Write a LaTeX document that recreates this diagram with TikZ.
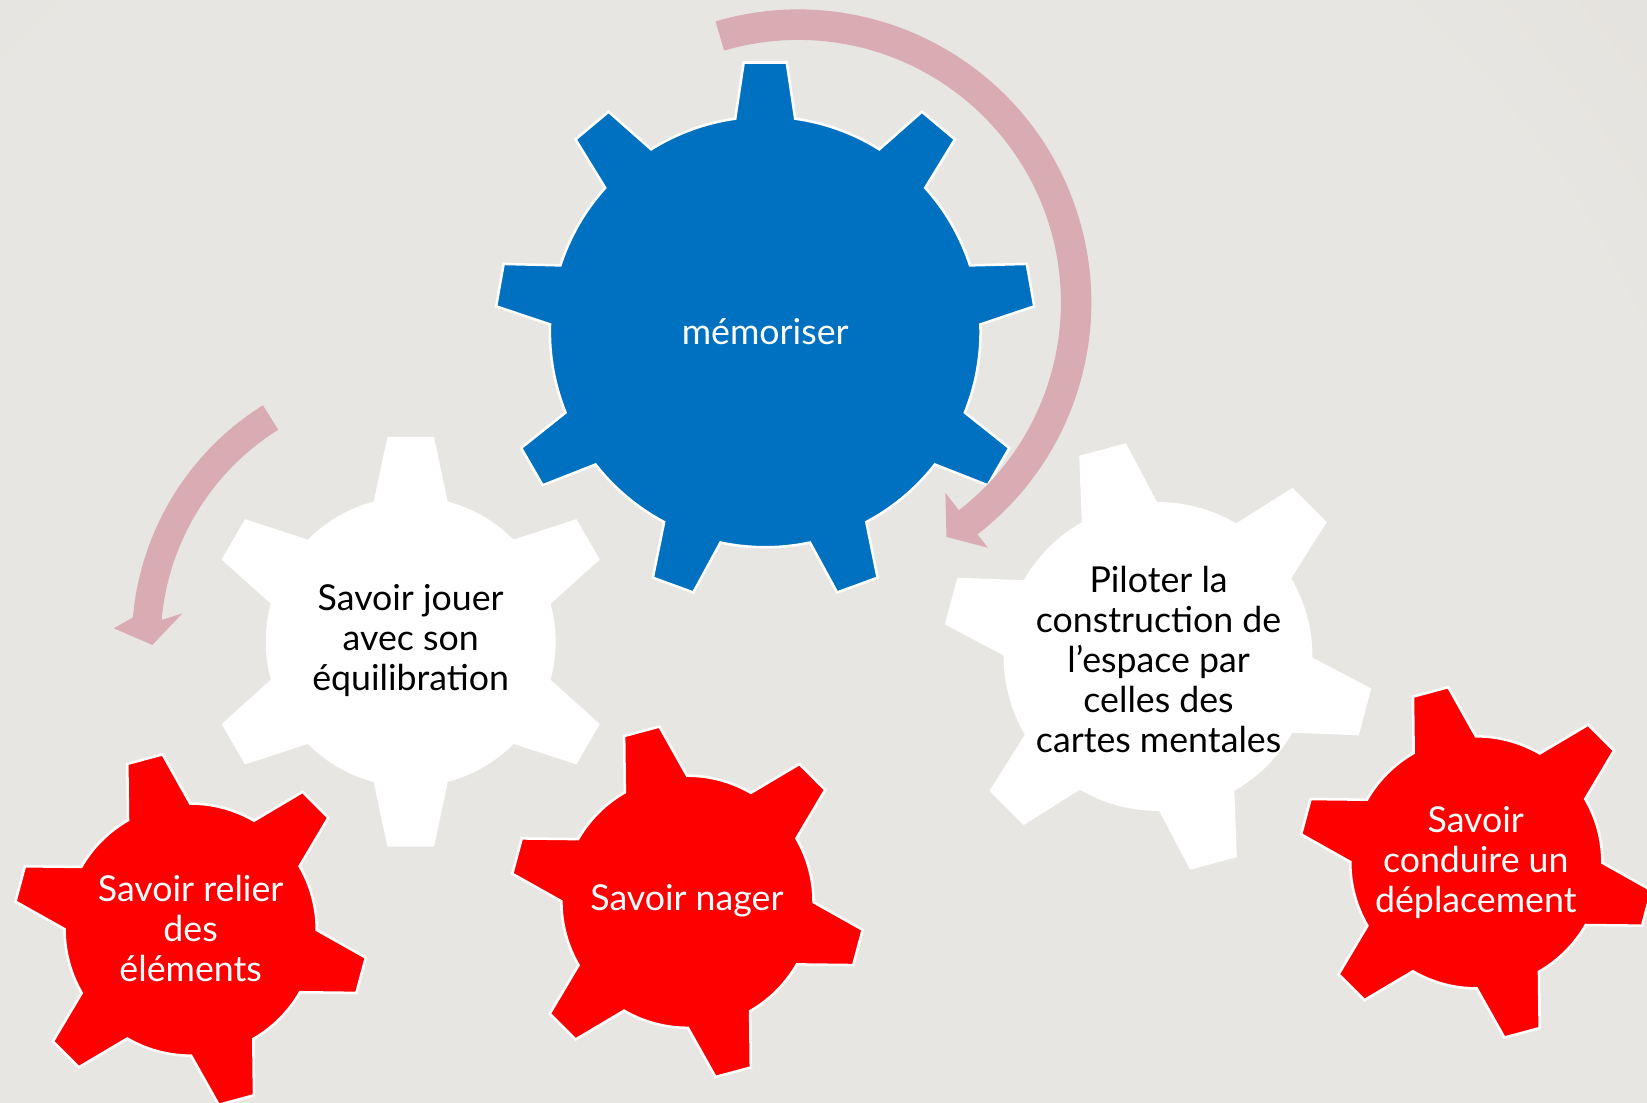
\documentclass[tikz,border=0pt]{standalone}
\usepackage{fontspec}
\setmainfont{Lato}
\definecolor{gblue}{RGB}{0,112,192}
\definecolor{gred}{RGB}{255,0,0}
\definecolor{apink}{RGB}{217,171,178}
\definecolor{bgin}{RGB}{232,230,226}
\definecolor{bgout}{RGB}{209,206,201}
\pgfdeclareradialshading{bgshade}{\pgfpoint{0bp}{0bp}}{color(0bp)=(bgin); color(20bp)=(bgin); color(50bp)=(bgout)}
% #1 style, #2 centre, #3 teeth, #4 first angle, #5 body r, #6 tip R, #7 tip half width, #8 base half angle
\newcommand\gearshape[8]{%
  \pgfmathsetmacro\gstep{360/#3}%
  \pgfmathsetmacro\gta{atan(#7/#6)}%
  \pgfmathsetmacro\gtr{veclen(#6,#7)}%
  \pgfmathtruncatemacro\glast{#3-1}%
  \begin{scope}[shift={#2}]
    \path[#1] ({#4-#8}:#5)
      \foreach \k in {0,...,\glast}{
        -- ({#4+\k*\gstep-\gta}:\gtr) -- ({#4+\k*\gstep+\gta}:\gtr)
        -- ({#4+\k*\gstep+#8}:#5)
        arc[start angle={#4+\k*\gstep+#8}, end angle={#4+(\k+1)*\gstep-#8}, radius=#5]
      } -- cycle;
  \end{scope}}
\tikzset{
  bluegear/.style={fill=gblue, draw=white, line width=1.2pt, line join=miter},
  redgear/.style={fill=gred, draw=white, line width=1.2pt, line join=miter},
  whitegear/.style={fill=white},
  arrowfill/.style={fill=apink},
  gtxt/.style={align=center, inner sep=0pt, font=\fontsize{17}{19}\selectfont},
  wtxt/.style={gtxt, text=white},
  ktxt/.style={gtxt, text=black}
}
\begin{document}
\begin{tikzpicture}[x=5pt, y=5pt]
\useasboundingbox (0,0) rectangle (156.8,105);
\begin{scope}
  \clip (0,0) rectangle (156.8,105);
  \shade[shading=bgshade] (70,35) circle (115);
\end{scope}
% gears
\gearshape{whitegear}{(39.1,43.9)}{6}{30}{13.8}{19.5}{2.22}{14.8}
\gearshape{whitegear}{(110.25,42.5)}{6}{45}{14.7}{20.4}{2.3}{14.6}
\gearshape{redgear}{(18.15,16.5)}{6}{45}{12.0}{16.8}{1.74}{14.8}
\gearshape{redgear}{(65.45,19.15)}{6}{45}{12.0}{16.8}{1.74}{14.8}
\gearshape{redgear}{(140.55,22.9)}{6}{45}{12.0}{16.8}{1.74}{14.8}
\gearshape{bluegear}{(72.85,73.4)}{9}{90}{20.5}{25.65}{2.05}{8}
% circular arrows
\begin{scope}[shift={(76.0,76.2)}]
  \fill[arrowfill] (106.4:27.9) arc[start angle=106.4, end angle=-52.3, radius=27.9]
    -- (-52.3:29.5) -- (-57.7:26.4) -- (-52.3:22.9) -- (-52.3:25.0)
    arc[start angle=-52.3, end angle=106.4, radius=25.0] -- cycle;
\end{scope}
\begin{scope}[shift={(39.1,43.9)}]
  \fill[arrowfill] (122:26.55) arc[start angle=122, end angle=175, radius=26.55]
    -- (177.4:28.3) -- (180.7:24.6) -- (172.9:21.9) -- (175:23.8)
    arc[start angle=175, end angle=122, radius=23.8] -- cycle;
\end{scope}
% labels
\node[wtxt] (mem) at (72.85,73.4) {mémoriser};
\node[ktxt] (jouer) at (39.1,44.0) {Savoir jouer\\avec son\\équilibration};
\node[ktxt] (pilot) at (110.3,42.2) {Piloter la\\construction de\\l’espace par\\celles des\\cartes mentales};
\node[wtxt] (relier) at (18.15,16.6) {Savoir relier\\des\\éléments};
\node[wtxt] (nager) at (65.4,19.2) {Savoir nager};
\node[wtxt] (conduire) at (140.5,22.9) {Savoir\\conduire un\\déplacement};
\end{tikzpicture}
\end{document}
